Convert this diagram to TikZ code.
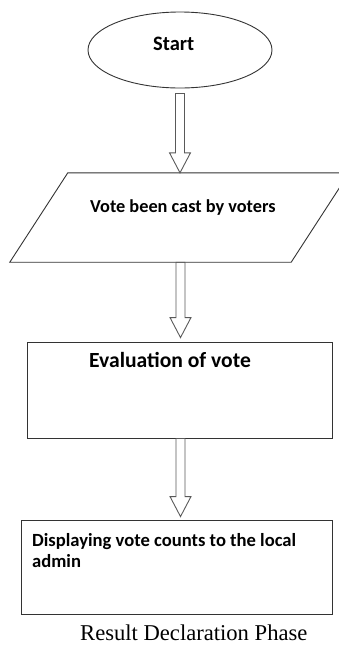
\documentclass[tikz,border=0pt]{standalone}
\usepackage{fontspec}
\setmainfont{Liberation Serif}
\newfontfamily\labelfont{Carlito}
\usetikzlibrary{shapes.geometric,calc}
\tikzset{
  boxline/.style={draw=black!80, line width=0.9pt},
  arrowline/.style={draw=black!65, line width=0.9pt, line join=miter},
  lbl/.style={inner sep=0pt, anchor=base west, font=\labelfont\bfseries},
}
\newcommand\blockarr[2]{%
  \draw[arrowline] let \p1=#1, \p2=#2 in
    (\x1-4.5pt,\y1) -- (\x1-4.5pt,\y2+20pt) -- (\x1-10.5pt,\y2+20pt) -- (\x1,\y2)
    -- (\x1+10.5pt,\y2+20pt) -- (\x1+4.5pt,\y2+20pt) -- (\x1+4.5pt,\y1) -- cycle;}
\begin{document}
\begin{tikzpicture}[x=1pt,y=-1pt]
\useasboundingbox (0,0) rectangle (338,646);
% start
\node (start) [ellipse, boxline, minimum width=184pt, minimum height=76pt, inner sep=0pt] at (180,50) {};
\node (starttext) [lbl, font=\labelfont\bfseries\fontsize{20.5}{24}\selectfont] at (153,50) {Start};
% parallelogram
\node (vote) [inner sep=0pt, minimum width=281pt, minimum height=89pt] at (179.5,217.5) {};
\draw[boxline] ([xshift=29pt]vote.north west) -- ([xshift=29pt]vote.north east)
  -- ([xshift=-29pt]vote.south east) -- ([xshift=-29pt]vote.south west) -- cycle;
\node (votetext) [lbl, font=\labelfont\bfseries\fontsize{18.3}{22}\selectfont] at (90,212) {Vote been cast by voters};
% evaluation
\node (eval) [boxline, inner sep=0pt, minimum width=305pt, minimum height=96pt] at (179.5,390) {};
\node (evaltext) [lbl, font=\labelfont\bfseries\fontsize{21.6}{25}\selectfont] at (89,367) {Evaluation of vote};
% display
\node (disp) [boxline, inner sep=0pt, minimum width=311pt, minimum height=94pt] at (176.5,567) {};
\node (disptext1) [lbl, font=\labelfont\bfseries\fontsize{18.6}{20}\selectfont] at (32,546) {Displaying vote counts to the local};
\node (disptext2) [lbl, font=\labelfont\bfseries\fontsize{18.6}{20}\selectfont] at (32,567) {admin};
% caption
\node (caption) [inner sep=0pt, anchor=base west, font=\fontsize{22.6}{26}\selectfont] at (80,640) {Result Declaration Phase};
% arrows
\blockarr{([yshift=-5pt]start.south)}{(vote.north)}
\blockarr{([xshift=1pt]vote.south)}{([xshift=1pt,yshift=4pt]eval.north)}
\blockarr{([xshift=1pt]eval.south)}{([xshift=4pt,yshift=3pt]disp.north)}
\end{tikzpicture}
\end{document}
